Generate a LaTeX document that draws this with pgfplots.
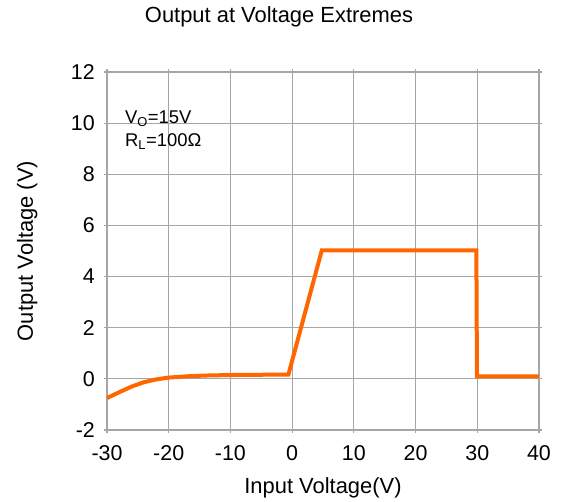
\documentclass[border=0pt]{standalone}
\usepackage{fontspec}
\setmainfont{Liberation Sans}
\usepackage{pgfplots}
\pgfplotsset{compat=1.18}
\definecolor{gridgray}{RGB}{166,166,166}
\definecolor{curveorange}{RGB}{255,102,0}
\begin{document}
\begin{tikzpicture}
\begin{axis}[
    scale only axis,
    width=432bp, height=358bp,
    xmin=-30, xmax=40, ymin=-2, ymax=12,
    xtick={-30,-20,...,40},
    ytick={-2,0,...,12},
    grid=major,
    grid style={gridgray, line width=1.2pt},
    axis line style={gridgray, line width=1.2pt},
    tick style={gridgray, line width=1.2pt},
    tick align=outside,
    major tick length=3bp,
    /pgf/number format/assume math mode=true,
    ticklabel style={font=\fontsize{21.5}{25}\selectfont},
    xticklabel style={anchor=base, yshift=-27bp},
    yticklabel style={anchor=east, inner sep=0pt, xshift=-9bp},
    title={Output at Voltage Extremes},
    title style={font=\fontsize{22}{26}\selectfont, anchor=base,
        at={(axis description cs:0.5,1)}, yshift=44bp, xshift=-44bp},
    xlabel={Input Voltage(V)},
    xlabel style={font=\fontsize{22}{26}\selectfont, anchor=base,
        at={(axis description cs:0.5,0)}, yshift=-63bp},
    ylabel={Output Voltage (V)},
    every axis y label/.style={font=\fontsize{22}{26}\selectfont,
        at={(axis description cs:0,0.5)}, xshift=-74bp, rotate=90,
        anchor=base},
]
\addplot[curveorange, line width=4bp, line join=miter] coordinates {
    (-30,-0.75) (-28,-0.52) (-26,-0.30) (-24,-0.13) (-22,-0.02)
    (-20,0.05) (-17,0.10) (-14,0.13) (-10,0.15) (-5,0.16) (-0.6,0.17)
    (4.8,5.02) (29.85,5.02) (29.95,0.10) (40,0.10)
};
\node[anchor=base west, inner sep=0pt, font=\fontsize{18.5}{22}\selectfont]
    at (axis cs:-27.1,10.0) {V\textsubscript{O}=15V};
\node[anchor=base west, inner sep=0pt, font=\fontsize{18.5}{22}\selectfont]
    at (axis cs:-27.1,9.08) {R\textsubscript{L}=100Ω};
\end{axis}
\pgfresetboundingbox
\path[use as bounding box] (-107bp,-72bp) rectangle (457bp,430bp);
\end{tikzpicture}
\end{document}
